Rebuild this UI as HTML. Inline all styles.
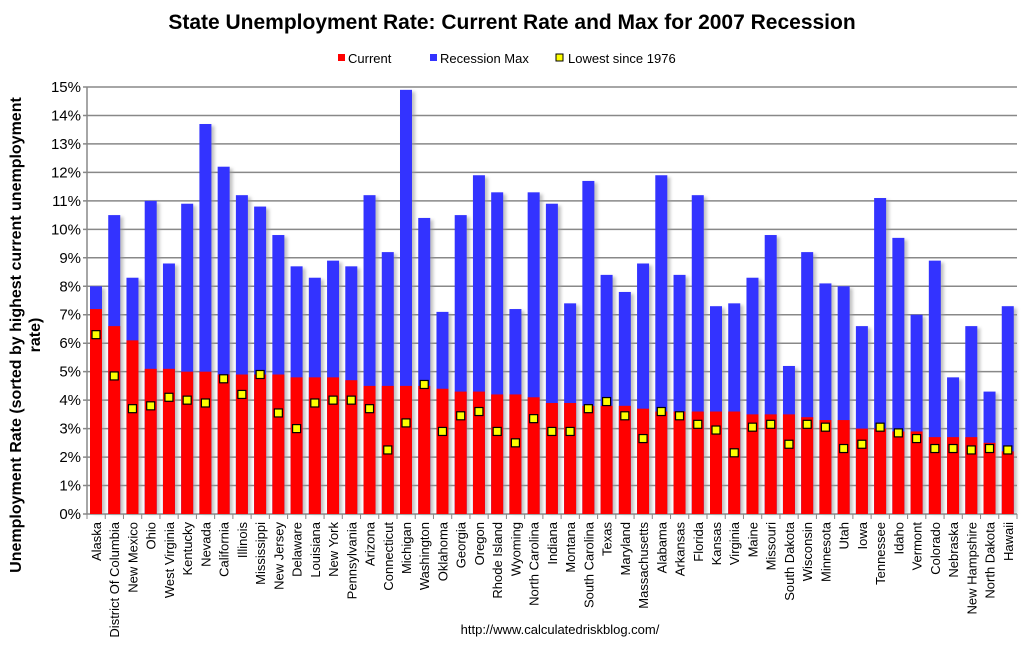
<!DOCTYPE html>
<html><head><meta charset="utf-8"><style>
body{margin:0;background:#fff;font-family:"Liberation Sans",Arial,sans-serif}
svg text{font-family:"Liberation Sans",Arial,sans-serif}
</style></head><body>
<svg id="chart" width="1024" height="649" xmlns="http://www.w3.org/2000/svg">
<defs><filter id="sh" x="-50%" y="-10%" width="200%" height="120%"><feGaussianBlur stdDeviation="1.5"/></filter></defs>
<text x="512" y="29" text-anchor="middle" font-size="21" font-weight="bold">State Unemployment Rate: Current Rate and Max for 2007 Recession</text>
<g>
<rect x="338" y="54" width="7" height="7" fill="#f00"/>
<text x="348" y="63" font-size="13">Current</text>
<rect x="430" y="54" width="7" height="7" fill="#3333ff"/>
<text x="440" y="63" font-size="13">Recession Max</text>
<rect x="556" y="54" width="7" height="7" fill="#ff0" stroke="#000"/>
<text x="568" y="63" font-size="13">Lowest since 1976</text>
</g>
<text transform="translate(21,335) rotate(-90)" text-anchor="middle" font-size="16" font-weight="bold"><tspan x="0" y="0">Unemployment Rate (sorted by highest current unemployment</tspan><tspan x="0" y="19">rate)</tspan></text>
<text x="560" y="634" text-anchor="middle" font-size="13">http://www.calculatedriskblog.com/</text>
<g id="grid"></g><g id="bars"></g><g id="xl"></g>
</svg>
<script>
const states=["Alaska","District Of Columbia","New Mexico","Ohio","West Virginia","Kentucky","Nevada","California","Illinois","Mississippi","New Jersey","Delaware","Louisiana","New York","Pennsylvania","Arizona","Connecticut","Michigan","Washington","Oklahoma","Georgia","Oregon","Rhode Island","Wyoming","North Carolina","Indiana","Montana","South Carolina","Texas","Maryland","Massachusetts","Alabama","Arkansas","Florida","Kansas","Virginia","Maine","Missouri","South Dakota","Wisconsin","Minnesota","Utah","Iowa","Tennessee","Idaho","Vermont","Colorado","Nebraska","New Hampshire","North Dakota","Hawaii"];
const current=[7.2,6.6,6.1,5.1,5.1,5.0,5.0,4.9,4.9,4.9,4.9,4.8,4.8,4.8,4.7,4.5,4.5,4.5,4.5,4.4,4.3,4.3,4.2,4.2,4.1,3.9,3.9,3.8,3.8,3.8,3.7,3.6,3.6,3.6,3.6,3.6,3.5,3.5,3.5,3.4,3.3,3.3,3.0,3.0,2.9,2.9,2.7,2.7,2.7,2.5,2.2];
const recessionMax=[8.0,10.5,8.3,11.0,8.8,10.9,13.7,12.2,11.2,10.8,9.8,8.7,8.3,8.9,8.7,11.2,9.2,14.9,10.4,7.1,10.5,11.9,11.3,7.2,11.3,10.9,7.4,11.7,8.4,7.8,8.8,11.9,8.4,11.2,7.3,7.4,8.3,9.8,5.2,9.2,8.1,8.0,6.6,11.1,9.7,7.0,8.9,4.8,6.6,4.3,7.3];
const lowest=[6.3,4.85,3.7,3.8,4.1,4.0,3.9,4.75,4.2,4.9,3.55,3.0,3.9,4.0,4.0,3.7,2.25,3.2,4.55,2.9,3.45,3.6,2.9,2.5,3.35,2.9,2.9,3.7,3.95,3.45,2.65,3.6,3.45,3.15,2.95,2.15,3.05,3.15,2.45,3.15,3.05,2.3,2.45,3.05,2.85,2.65,2.3,2.3,2.25,2.3,2.25];
const yTicks=[0,1,2,3,4,5,6,7,8,9,10,11,12,13,14,15];
const NS="http://www.w3.org/2000/svg";
const x0=87,x1=1017,yB=514,yT=87;
const slot=(x1-x0)/states.length;
const y=v=>yB-(v/15)*(yB-yT);
const xs=i=>x0+i*slot;
function mk(tag,attrs,parent){const e=document.createElementNS(NS,tag);for(const k in attrs)e.setAttribute(k,attrs[k]);parent.appendChild(e);return e;}
const grid=document.getElementById('grid'),bars=document.getElementById('bars'),xl=document.getElementById('xl');
yTicks.forEach(t=>{
 const l=mk('line',{x1:x0-4,x2:x1,y1:y(t),y2:y(t),stroke:'#888','stroke-width':1.5},grid);
 
 
 const tx=mk('text',{x:x0-6,y:y(t)+5,'text-anchor':'end','font-size':15},grid);
 tx.textContent=t+'%';
 
 
});
const ax=mk('line',{x1:x0,x2:x0,y1:yT,y2:yB,stroke:'#888','stroke-width':1.5},grid);


states.forEach((s,i)=>{
 const bx=xs(i)+3,bw=12;
 mk('line',{x1:xs(i),x2:xs(i),y1:yB,y2:yB+5,stroke:'#888'},grid);
 const sh=mk('rect',{x:bx+3,y:y(recessionMax[i])+2,width:bw,height:yB-y(recessionMax[i])-2,fill:'#999',opacity:0.6,filter:'url(#sh)'},bars);
 
 
 const b=mk('rect',{x:bx,y:y(recessionMax[i]),width:bw,height:yB-y(recessionMax[i]),fill:'#3333ff'},bars);
 
 
 const r=mk('rect',{x:bx,y:y(current[i]),width:bw,height:yB-y(current[i]),fill:'#ff0000'},bars);
 
 
 const m=mk('rect',{x:bx+2,y:y(lowest[i])-4,width:8,height:8,fill:'#ffff00',stroke:'#000','stroke-width':1.2},bars);
 
 
 const t=mk('text',{transform:`translate(${bx+bw/2+5},${yB+8}) rotate(-90)`,'text-anchor':'end','font-size':13},xl);
 t.textContent=s;
 
 
});
mk('line',{x1:x1,x2:x1,y1:yB,y2:yB+5,stroke:'#888'},grid);
</script>
</body></html>
